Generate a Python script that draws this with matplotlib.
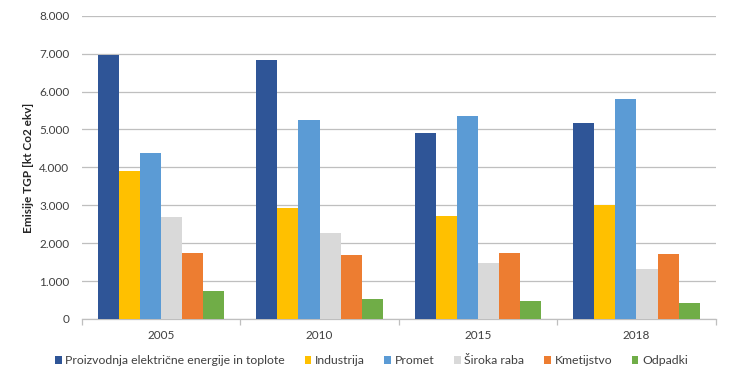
import matplotlib
matplotlib.use("Agg")
import matplotlib.pyplot as plt
import numpy as np
from matplotlib.ticker import FuncFormatter, FixedLocator
from matplotlib.patches import Patch

plt.rcParams['font.family'] = ['Lato', 'DejaVu Sans']

years = ["2005", "2010", "2015", "2018"]
series_names = ["Proizvodnja električne energije in toplote", "Industrija", "Promet",
                "Široka raba", "Kmetijstvo", "Odpadki"]
proizvodnja = [6960, 6840, 4910, 5170]
industrija = [3910, 2930, 2720, 3010]
promet = [4390, 5240, 5350, 5810]
siroka_raba = [2680, 2270, 1470, 1310]
kmetijstvo = [1730, 1690, 1730, 1710]
odpadki = [740, 530, 470, 430]
series = [proizvodnja, industrija, promet, siroka_raba, kmetijstvo, odpadki]
colors = ["#2F5597", "#FFC000", "#5B9BD5", "#D9D9D9", "#ED7D31", "#70AD47"]

fig = plt.figure(figsize=(7.31, 3.87), dpi=100)
ax = fig.add_axes([0.112, 0.176, 0.867, 0.783])

n = len(series)
bw = 0.8 / n
x = np.arange(len(years))
for i, (vals, c) in enumerate(zip(series, colors)):
    ax.bar(x - 0.4 + bw * (i + 0.5), vals, width=bw, color=c, zorder=3, linewidth=0)

ax.set_xlim(-0.5, len(years) - 0.5)
ax.set_ylim(0, 8000)
ax.set_yticks(np.arange(0, 8001, 1000))
ax.yaxis.set_major_formatter(FuncFormatter(lambda v, p: "0" if v == 0 else f"{int(v):,}".replace(",", ".")))
ax.yaxis.grid(True, color="#BFBFBF", linewidth=0.9, zorder=0)
ax.tick_params(axis='y', length=0, labelsize=8.5, colors="#404040", pad=9)

ax.set_xticks(x)
ax.set_xticklabels(years)
ax.xaxis.set_minor_locator(FixedLocator(np.arange(-0.5, len(years), 1)))
ax.tick_params(axis='x', which='major', length=0, labelsize=8.5, colors="#404040", pad=8)
ax.tick_params(axis='x', which='minor', length=4, color="#BFBFBF", width=0.9)

for s in ['top', 'right', 'left']:
    ax.spines[s].set_visible(False)
ax.spines['bottom'].set_color("#BFBFBF")
ax.spines['bottom'].set_linewidth(0.9)

ax.set_ylabel("Emisije TGP [kt Co2 ekv]", fontsize=8.5, fontweight='bold', color="#262626", labelpad=4)

handles = [Patch(facecolor=c, edgecolor='none') for c in colors]
fig.legend(handles, series_names, loc='center', bbox_to_anchor=(0.508, 0.068), ncol=6, frameon=False,
           fontsize=8.8, handlelength=0.55, handleheight=0.55, handletextpad=0.3, columnspacing=1.6,
           labelcolor="#404040")

fig.savefig("out.png", dpi=100)
